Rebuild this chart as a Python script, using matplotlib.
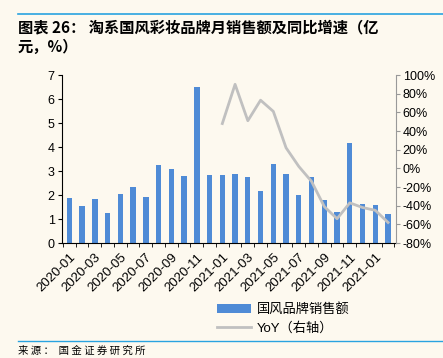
import matplotlib
matplotlib.use("Agg")
import matplotlib.pyplot as plt
import numpy as np

plt.rcParams["font.family"] = ["Liberation Sans", "Noto Sans CJK SC", "DejaVu Sans"]

# monthly data, 2020-01 .. 2022-02
months = [
    "2020-01", "2020-02", "2020-03", "2020-04", "2020-05", "2020-06",
    "2020-07", "2020-08", "2020-09", "2020-10", "2020-11", "2020-12",
    "2021-01", "2021-02", "2021-03", "2021-04", "2021-05", "2021-06",
    "2021-07", "2021-08", "2021-09", "2021-10", "2021-11", "2021-12",
    "2022-01", "2022-02",
]
sales = [1.89, 1.54, 1.83, 1.24, 2.03, 2.33, 1.93, 3.24, 3.08, 2.78, 6.51, 2.83,
         2.83, 2.87, 2.74, 2.18, 3.28, 2.87, 1.99, 2.74, 1.78, 1.28, 4.15, 1.63,
         1.57, 1.22]
# YoY (%) only available from 2021-01
yoy_start = 12
yoy = [48, 90, 51, 73, 61, 22, 2, -14, -41, -54, -37, -42, -45, -58]
# tick labels as printed in the source (last one reads 2021-01)
tick_labels = ["2020-01", "2020-03", "2020-05", "2020-07", "2020-09", "2020-11",
               "2021-01", "2021-03", "2021-05", "2021-07", "2021-09", "2021-11",
               "2021-01"]

bg = "#fdf9ef"
bar_c = "#4f8bd6"
line_c = "#c0c0c0"
rule_c = "#29a3e0"

fig = plt.figure(figsize=(4.43, 3.58), dpi=100, facecolor=bg)
ax = fig.add_axes([61.7 / 443, 1 - 243 / 358, (395.7 - 61.7) / 443, (243 - 75) / 358])
ax.set_facecolor(bg)
ax2 = ax.twinx()

x = np.arange(len(months))
bars = ax.bar(x, sales, width=0.42, color=bar_c, label="国风品牌销售额", zorder=2)
xl = np.arange(yoy_start, yoy_start + len(yoy))
ln, = ax2.plot(xl, yoy, color=line_c, lw=2, label="YoY（右轴）")

ax.set_xlim(-0.6, len(months) - 0.4)
ax.set_ylim(0, 7)
ax.set_yticks(range(0, 8))
ax2.set_ylim(-80, 100)
ax2.set_yticks(range(-80, 101, 20))
ax2.set_yticklabels([f"{v}%" for v in range(-80, 101, 20)])

ax.set_xticks(x[::2])
ax.set_xticklabels(tick_labels, rotation=45, ha="right", rotation_mode="anchor", fontsize=9.5)
ax.set_xticks(np.arange(-0.5, len(months), 1), minor=True)
ax.tick_params(axis="x", which="major", length=0, pad=6)
ax.tick_params(axis="x", which="minor", length=3, direction="out")
ax.tick_params(axis="y", labelsize=9, length=3, pad=2)
ax2.tick_params(axis="y", labelsize=9, length=3, pad=2, color="#999999")

for a in (ax, ax2):
    a.spines["top"].set_visible(False)
ax.spines["right"].set_visible(False)
ax2.spines["left"].set_visible(False)
ax2.spines["bottom"].set_visible(False)
ax2.spines["right"].set_color("#999999")

fig.legend(handles=[bars, ln], loc="upper left", bbox_to_anchor=(205 / 443, 1 - 291 / 358),
           frameon=False, handlelength=2.6, handletextpad=0.4,
           labelspacing=0.45, prop={"family": ["Liberation Sans", "Noto Sans CJK SC"], "size": 9.5})

# header / footer
fig.add_artist(plt.Line2D([18 / 443, 1], [1 - 14 / 358] * 2, color=rule_c, lw=1.2))
fig.text(18 / 443, 1 - 27 / 358, "图表 26： 淘系国风彩妆品牌月销售额及同比增速（亿",
         fontsize=11, fontweight="bold", family=["Noto Sans CJK SC"], va="center")
fig.text(18 / 443, 1 - 47 / 358, "元，%）",
         fontsize=11, fontweight="bold", family=["Noto Sans CJK SC"], va="center")
fig.add_artist(plt.Line2D([18 / 443, 1], [1 - 341 / 358] * 2, color=rule_c, lw=1.0))
fig.text(18 / 443, 1 - 351 / 358, "来 源 ：  国 金 证 券 研 究 所", fontsize=7.5,
         family=["Noto Sans CJK SC"], va="center")

fig.savefig("out.png", dpi=100, facecolor=bg)
